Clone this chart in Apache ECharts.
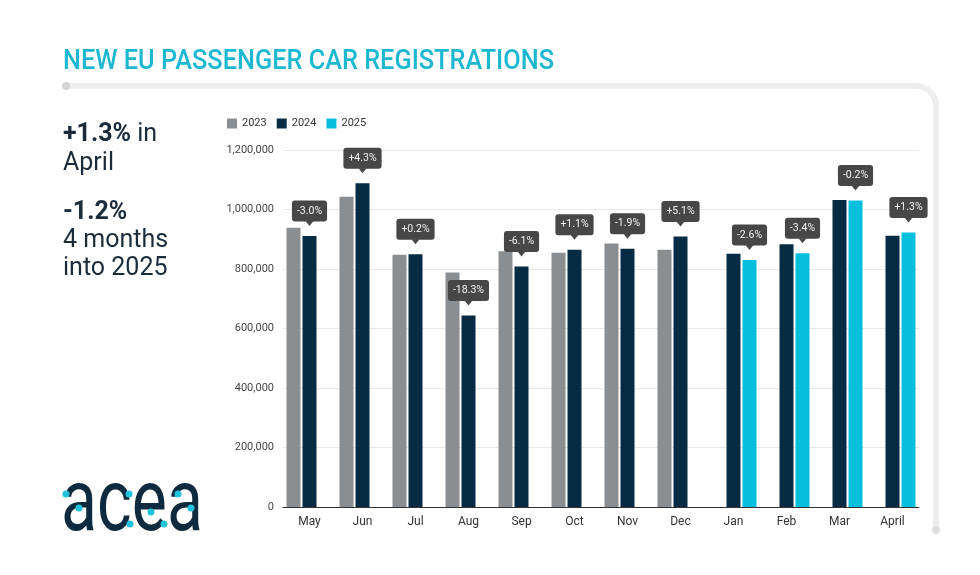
<!DOCTYPE html>
<html>
<head>
<meta charset="utf-8">
<script src="https://cdn.jsdelivr.net/npm/echarts@6/dist/echarts.min.js"></script>
<style>
html,body{margin:0;padding:0;background:#fff;}
#chart{width:980px;height:575px;}
</style>
</head>
<body>
<div id="chart"></div>
<script>
// ---- data ----
var months = ['May','Jun','Jul','Aug','Sep','Oct','Nov','Dec','Jan','Feb','Mar','April'];
var seriesNames = ['2023','2024','2025'];
var values2023 = [939000,1043000,848000,788000,860000,855000,886000,865000,null,null,null,null];
var values2024 = [911000,1088000,850000,644000,808000,865000,868000,909000,851000,883000,1032000,912000];
var values2025 = [null,null,null,null,null,null,null,null,830000,853000,1030000,923000];
var changeLabels = ['-3.0%','+4.3%','+0.2%','-18.3%','-6.1%','+1.1%','-1.9%','+5.1%','-2.6%','-3.4%','-0.2%','+1.3%'];
var yTicks = [0,200000,400000,600000,800000,1000000,1200000];

var colors = ['#8b8e90','#062b42','#06bfdc'];
var BAR_W = 14, BAR_GAP = 2;

// label points: on latest year bar of each month
var labelData = months.map(function(m, i){
  var useS = values2025[i] != null ? 2 : 1;
  var v = useS === 2 ? values2025[i] : values2024[i];
  return [i, v, useS];
});

var chart = echarts.init(document.getElementById('chart'), null, {renderer:'canvas'});

function measure(text, font){
  var c = document.createElement('canvas').getContext('2d');
  c.font = font; return c.measureText(text).width;
}
var titleText = 'NEW EU PASSENGER CAR REGISTRATIONS';
var titleFont = '500 28px Roboto';
var titleScale = 491 / measure(titleText, titleFont);
var logoFont = '400 87px Roboto';
var logoScale = 142 / measure('acea', logoFont);

var dark = '#1b2b3a';
var frameColor = '#eeeeee';
var dotColor = '#20c2dc';

var option = {
  animation: false,
  backgroundColor: '#ffffff',
  textStyle: {fontFamily: 'Roboto'},
  legend: {
    data: seriesNames,
    left: 222, top: 113,
    itemWidth: 10, itemHeight: 10, itemGap: 10,
    icon: 'rect',
    textStyle: {fontSize: 11, color: '#333', fontFamily: 'Roboto'}
  },
  grid: {left: 283, right: 61, top: 150, bottom: 68},
  xAxis: {
    type: 'category',
    data: months,
    axisLine: {lineStyle: {color: '#333', width: 1}},
    axisTick: {show: false},
    axisLabel: {fontSize: 12, color: '#333', margin: 9, fontFamily: 'Roboto'}
  },
  yAxis: {
    type: 'value',
    min: yTicks[0], max: yTicks[yTicks.length-1], interval: yTicks[1]-yTicks[0],
    axisLine: {show: false},
    axisTick: {show: false},
    splitLine: {lineStyle: {color: '#e9e9e9', width: 1}},
    axisLabel: {
      fontSize: 11, color: '#444', margin: 9, fontFamily: 'Roboto',
      formatter: function(v){ return v.toLocaleString('en-US'); }
    }
  },
  series: [
    {name: seriesNames[0], type: 'bar', data: values2023, barWidth: BAR_W, barGap: (BAR_GAP/BAR_W*100)+'%', itemStyle: {color: colors[0]}},
    {name: seriesNames[1], type: 'bar', data: values2024, barWidth: BAR_W, barGap: (BAR_GAP/BAR_W*100)+'%', itemStyle: {color: colors[1]}},
    {name: seriesNames[2], type: 'bar', data: values2025, barWidth: BAR_W, barGap: (BAR_GAP/BAR_W*100)+'%', itemStyle: {color: colors[2]}},
    {
      type: 'custom',
      data: labelData,
      z: 10,
      silent: true,
      renderItem: function(params, api){
        var idx = api.value(0), v = api.value(1), s = api.value(2);
        var txt = changeLabels[idx];
        var p = api.coord([idx, v]);
        var x = p[0] + (s - 1) * (BAR_W + BAR_GAP);
        var y = p[1];
        return {
          type: 'group',
          children: [
            {type: 'polygon', shape: {points: [[x-4, y-15], [x+4, y-15], [x, y-10]]}, style: {fill: '#474747'}},
            {type: 'text', x: x, y: y-14.5, style: {
              text: txt, fill: '#f2f2f2', font: '10.5px Roboto',
              align: 'center', verticalAlign: 'bottom',
              backgroundColor: '#474747', padding: [5, 5, 5, 5], borderRadius: 3
            }}
          ]
        };
      }
    }
  ],
  graphic: [
    {type: 'line', shape: {x1: 66, y1: 86, x2: 916, y2: 86}, style: {stroke: frameColor, lineWidth: 6, lineCap: 'round'}},
    {type: 'arc', shape: {cx: 916, cy: 106, r: 20, startAngle: -Math.PI/2, endAngle: 0, clockwise: true}, style: {stroke: frameColor, lineWidth: 6, fill: null}},
    {type: 'line', shape: {x1: 936, y1: 106, x2: 936, y2: 530}, style: {stroke: frameColor, lineWidth: 6, lineCap: 'round'}},
    {type: 'circle', shape: {cx: 66, cy: 86, r: 4}, style: {fill: '#d5d5d5'}},
    {type: 'circle', shape: {cx: 936, cy: 530, r: 4}, style: {fill: '#dedede'}},
    {type: 'text', x: 63, y: 62, scaleX: titleScale, originX: 0,
     style: {text: titleText, font: titleFont, fill: '#1cb8d2', verticalAlign: 'middle'}},
    {type: 'text', x: 63, y: 135,
     style: {text: '{b|+1.3%} in', font: '25px Roboto', fill: dark, verticalAlign: 'middle',
       rich: {b: {font: 'bold 25px Roboto', fill: dark}}}},
    {type: 'text', x: 63, y: 164, style: {text: 'April', font: '25px Roboto', fill: dark, verticalAlign: 'middle'}},
    {type: 'text', x: 63, y: 213, style: {text: '-1.2%', font: 'bold 25px Roboto', fill: dark, verticalAlign: 'middle'}},
    {type: 'text', x: 63, y: 241, style: {text: '4 months', font: '25px Roboto', fill: dark, verticalAlign: 'middle'}},
    {type: 'text', x: 63, y: 269, style: {text: 'into 2025', font: '25px Roboto', fill: dark, verticalAlign: 'middle'}},
    {type: 'text', x: 61, y: 508, scaleX: logoScale, originX: 0,
     style: {text: 'acea', font: logoFont, fill: '#0d2a3e', verticalAlign: 'middle'}},
    {type: 'circle', shape: {cx: 66, cy: 494, r: 3.5}, style: {fill: dotColor}},
    {type: 'circle', shape: {cx: 79, cy: 508, r: 3.5}, style: {fill: dotColor}},
    {type: 'circle', shape: {cx: 129, cy: 494, r: 3.5}, style: {fill: dotColor}},
    {type: 'circle', shape: {cx: 130, cy: 524, r: 3.5}, style: {fill: dotColor}},
    {type: 'circle', shape: {cx: 151, cy: 512, r: 3.5}, style: {fill: dotColor}},
    {type: 'circle', shape: {cx: 164, cy: 524, r: 3.5}, style: {fill: dotColor}},
    {type: 'circle', shape: {cx: 178, cy: 494, r: 3.5}, style: {fill: dotColor}},
    {type: 'circle', shape: {cx: 191, cy: 508, r: 3.5}, style: {fill: dotColor}}
  ]
};
chart.setOption(option);
</script>
</body>
</html>
